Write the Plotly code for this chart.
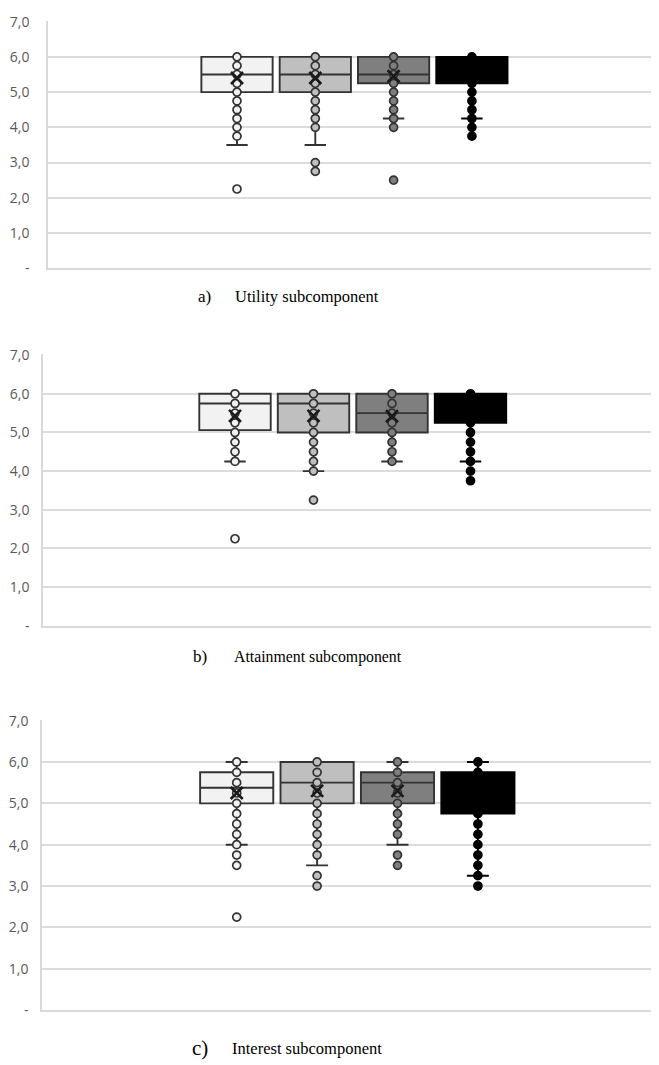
import plotly.graph_objects as go

# ---------------- data ----------------
series = ["S1", "S2", "S3", "S4"]
fill_colors = ["#f2f2f2", "#bfbfbf", "#7f7f7f", "#000000"]
line_colors = ["#333333", "#333333", "#333333", "#000000"]
mean_colors = ["#1a1a1a", "#1a1a1a", "#1a1a1a", "#000000"]

ytick_vals = [0, 1, 2, 3, 4, 5, 6, 7]
ytick_text = ["-", "1,0", "2,0", "3,0", "4,0", "5,0", "6,0", "7,0"]

# Panel a) Utility
a_q1 = [5.0, 5.0, 5.25, 5.25]
a_med = [5.5, 5.5, 5.5, 5.75]
a_q3 = [6.0, 6.0, 6.0, 6.0]
a_lo = [3.5, 3.5, 4.25, 4.25]
a_hi = [6.0, 6.0, 6.0, 6.0]
a_mean = [5.4, 5.4, 5.45, 5.55]
a_pts_1 = [6.0, 5.75, 5.5, 5.25, 5.0, 4.75, 4.5, 4.25, 4.0, 3.75, 2.25]
a_pts_2 = [6.0, 5.75, 5.5, 5.25, 5.0, 4.75, 4.5, 4.25, 4.0, 3.0, 2.75]
a_pts_3 = [6.0, 5.75, 5.5, 5.25, 5.0, 4.75, 4.5, 4.25, 4.0, 2.5]
a_pts_4 = [6.0, 5.75, 5.5, 5.25, 5.0, 4.75, 4.5, 4.25, 4.0, 3.75]

# Panel b) Attainment
b_q1 = [5.06, 5.0, 5.0, 5.25]
b_med = [5.75, 5.75, 5.5, 6.0]
b_q3 = [6.0, 6.0, 6.0, 6.0]
b_lo = [4.25, 4.0, 4.25, 4.25]
b_hi = [6.0, 6.0, 6.0, 6.0]
b_mean = [5.43, 5.43, 5.42, 5.6]
b_pts_1 = [6.0, 5.75, 5.5, 5.25, 5.0, 4.75, 4.5, 4.25, 2.25]
b_pts_2 = [6.0, 5.75, 5.5, 5.25, 5.0, 4.75, 4.5, 4.25, 4.0, 3.25]
b_pts_3 = [6.0, 5.75, 5.5, 5.25, 5.0, 4.75, 4.5, 4.25]
b_pts_4 = [6.0, 5.75, 5.5, 5.25, 5.0, 4.75, 4.5, 4.25, 4.0, 3.75]

# Panel c) Interest
c_q1 = [5.0, 5.0, 5.0, 4.75]
c_med = [5.375, 5.5, 5.5, 5.25]
c_q3 = [5.75, 6.0, 5.75, 5.75]
c_lo = [4.0, 3.5, 4.0, 3.25]
c_hi = [6.0, 6.0, 6.0, 6.0]
c_mean = [5.25, 5.3, 5.3, 5.1]
c_pts_1 = [6.0, 5.75, 5.5, 5.25, 5.0, 4.75, 4.5, 4.25, 4.0, 3.75, 3.5, 2.25]
c_pts_2 = [6.0, 5.75, 5.5, 5.25, 5.0, 4.75, 4.5, 4.25, 4.0, 3.75, 3.25, 3.0]
c_pts_3 = [6.0, 5.75, 5.5, 5.25, 5.0, 4.75, 4.5, 4.25, 3.75, 3.5]
c_pts_4 = [6.0, 5.75, 4.75, 4.5, 4.25, 4.0, 3.75, 3.5, 3.25, 3.0]

captions_letter = ["a)", "b)", "c)"]
captions_text = ["Utility subcomponent", "Attainment subcomponent", "Interest subcomponent"]

panels = [
    dict(q1=a_q1, med=a_med, q3=a_q3, lo=a_lo, hi=a_hi, mean=a_mean,
         pts=[a_pts_1, a_pts_2, a_pts_3, a_pts_4]),
    dict(q1=b_q1, med=b_med, q3=b_q3, lo=b_lo, hi=b_hi, mean=b_mean,
         pts=[b_pts_1, b_pts_2, b_pts_3, b_pts_4]),
    dict(q1=c_q1, med=c_med, q3=c_q3, lo=c_lo, hi=c_hi, mean=c_mean,
         pts=[c_pts_1, c_pts_2, c_pts_3, c_pts_4]),
]

# ---------------- layout geometry (target pixels in the picture) ----------------
W, H = 659, 1065
OFFX = 8          # horizontal page offset of the figure
Y_SHIFT, Y_SCALE = 18.0, 0.982   # observed vertical mapping figure -> picture
panel_geom = [
    dict(left=48, ybot=269, ytop=13, c1=237.0, sp=78.3, stand=14,
         cy=297, lx=196, tx=233, ls=17, ts=16.5),
    dict(left=43, ybot=626, ytop=355, c1=235.0, sp=78.5, stand=9,
         cy=657, lx=191, tx=232, ls=17, ts=15.8),
    dict(left=42, ybot=1010, ytop=720, c1=236.7, sp=80.4, stand=9,
         cy=1048, lx=190, tx=230, ls=21, ts=16.5),
]


def fx(px):
    return (px - OFFX) / W


def fy(py):
    fig_px = max((py - Y_SHIFT) / Y_SCALE, 4.0)
    return 1 - fig_px / H


fig = go.Figure()
layout = dict(
    width=W, height=H,
    margin=dict(l=0, r=0, t=0, b=0),
    paper_bgcolor="white", plot_bgcolor="white",
    showlegend=False,
    annotations=[],
)

for p, (pd_, g) in enumerate(zip(panels, panel_geom)):
    xa = "x" if p == 0 else f"x{p+1}"
    ya = "y" if p == 0 else f"y{p+1}"
    for i, s in enumerate(series):
        fig.add_trace(go.Box(
            x=[s], q1=[pd_["q1"][i]], median=[pd_["med"][i]], q3=[pd_["q3"][i]],
            lowerfence=[pd_["lo"][i]], upperfence=[pd_["hi"][i]],
            width=0.91, whiskerwidth=0.3,
            fillcolor=fill_colors[i],
            line=dict(color=line_colors[i], width=1.9),
            boxpoints=False, hoverinfo="skip",
            xaxis=xa, yaxis=ya,
        ))
    for i, s in enumerate(series):
        pts = pd_["pts"][i]
        fig.add_trace(go.Scatter(
            x=[s] * len(pts), y=pts, mode="markers",
            marker=dict(symbol="circle", size=8, color=fill_colors[i],
                        line=dict(color=line_colors[i], width=1.7)),
            hoverinfo="skip", xaxis=xa, yaxis=ya,
        ))
        fig.add_trace(go.Scatter(
            x=[s], y=[pd_["mean"][i]], mode="markers",
            marker=dict(symbol="x-thin", size=12,
                        line=dict(color=mean_colors[i], width=2.6)),
            hoverinfo="skip", xaxis=xa, yaxis=ya,
        ))

    left_fig = g["left"] - OFFX
    c1_fig = g["c1"] - OFFX
    x0 = -(c1_fig - left_fig) / g["sp"]
    x1 = (W - c1_fig) / g["sp"]

    xkey = "xaxis" if p == 0 else f"xaxis{p+1}"
    ykey = "yaxis" if p == 0 else f"yaxis{p+1}"
    layout[xkey] = dict(
        domain=[fx(g["left"]), 1.0], anchor=ya,
        type="category", categoryorder="array", categoryarray=series,
        range=[x0, x1], showticklabels=False, showgrid=False,
        zeroline=False, showline=True, linecolor="#d9d9d9", linewidth=1.5,
        fixedrange=True,
    )
    layout[ykey] = dict(
        domain=[fy(g["ybot"]), fy(g["ytop"])], anchor=xa,
        range=[0, 7.02], tickvals=ytick_vals, ticktext=ytick_text,
        tickfont=dict(family="Open Sans", size=14, color="#595959"),
        ticklabelstandoff=g["stand"],
        showgrid=True, gridcolor="#dcdcdc", gridwidth=1.5,
        zeroline=False, showline=True, linecolor="#d9d9d9", linewidth=1.5,
        fixedrange=True,
    )
    layout["annotations"].append(dict(
        text=captions_letter[p], xref="paper", yref="paper",
        x=fx(g["lx"]), y=fy(g["cy"]), xanchor="left", yanchor="middle",
        showarrow=False, font=dict(family="Liberation Serif", size=g["ls"], color="#000000"),
    ))
    layout["annotations"].append(dict(
        text=captions_text[p], xref="paper", yref="paper",
        x=fx(g["tx"]), y=fy(g["cy"]), xanchor="left", yanchor="middle",
        showarrow=False, font=dict(family="Liberation Serif", size=g["ts"], color="#000000"),
    ))

fig.update_layout(**layout)
fig.write_html("out.html")
